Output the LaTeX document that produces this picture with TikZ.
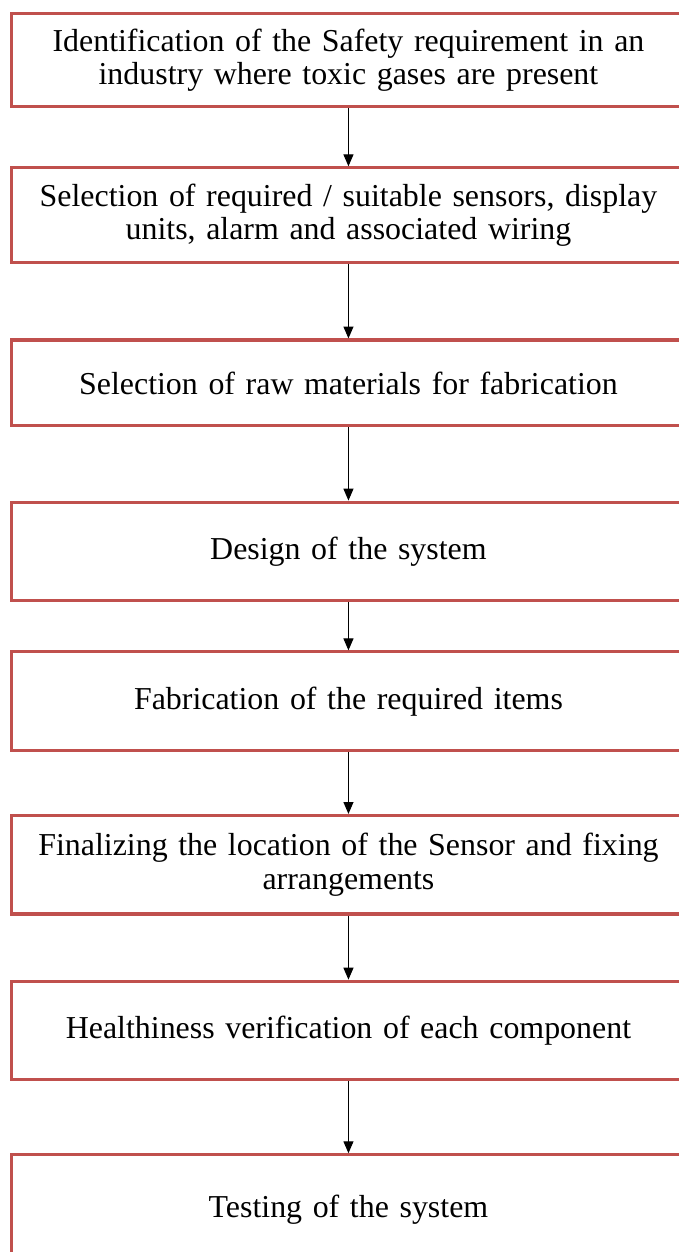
\documentclass[tikz,border=0pt]{standalone}
\usepackage{fontspec}
\setmainfont{Liberation Serif}
\usetikzlibrary{arrows.meta, positioning}
\definecolor{boxred}{RGB}{192,80,77}

\begin{document}
\begin{tikzpicture}[
    x=0.42pt, y=-0.42pt,
    node distance=26pt,
    stage/.style={draw=boxred, line width=1.3pt, rectangle, minimum width=283pt, minimum height=41.4pt, text width=278pt, align=center, inner sep=0pt, font=\fontsize{13.4}{13.9}\selectfont},
    arrow/.style={draw, line width=0.45pt, -{Triangle[width=4.2pt,length=5pt]}}
]
\useasboundingbox (0,0) rectangle (679,1252);

\node[stage, anchor=north west, minimum height=39.1pt] (ident) at (10,12) {Identification of the Safety requirement in an\\industry where toxic gases are present};
\node[stage, below=24.4pt of ident, minimum height=39.9pt] (sensors) {Selection of required / suitable sensors, display\\units, alarm and associated wiring};
\node[stage, below=31.1pt of sensors, minimum height=36.1pt] (raw) {Selection of raw materials for fabrication};
\node[stage, below=30.7pt of raw] (design) {Design of the system};
\node[stage, below=20.2pt of design] (fabric) {Fabrication of the required items};
\node[stage, below=26pt of fabric] (location) {Finalizing the location of the Sensor and fixing\\arrangements};
\node[stage, below=26.9pt of location] (health) {Healthiness verification of each component};
\node[stage, below=30.2pt of health, minimum height=46pt] (testing) {Testing of the system};

\draw[arrow] (ident) -- (sensors);
\draw[arrow] (sensors) -- (raw);
\draw[arrow] (raw) -- (design);
\draw[arrow] (design) -- (fabric);
\draw[arrow] (fabric) -- (location);
\draw[arrow] (location) -- (health);
\draw[arrow] (health) -- (testing);

\end{tikzpicture}
\end{document}
